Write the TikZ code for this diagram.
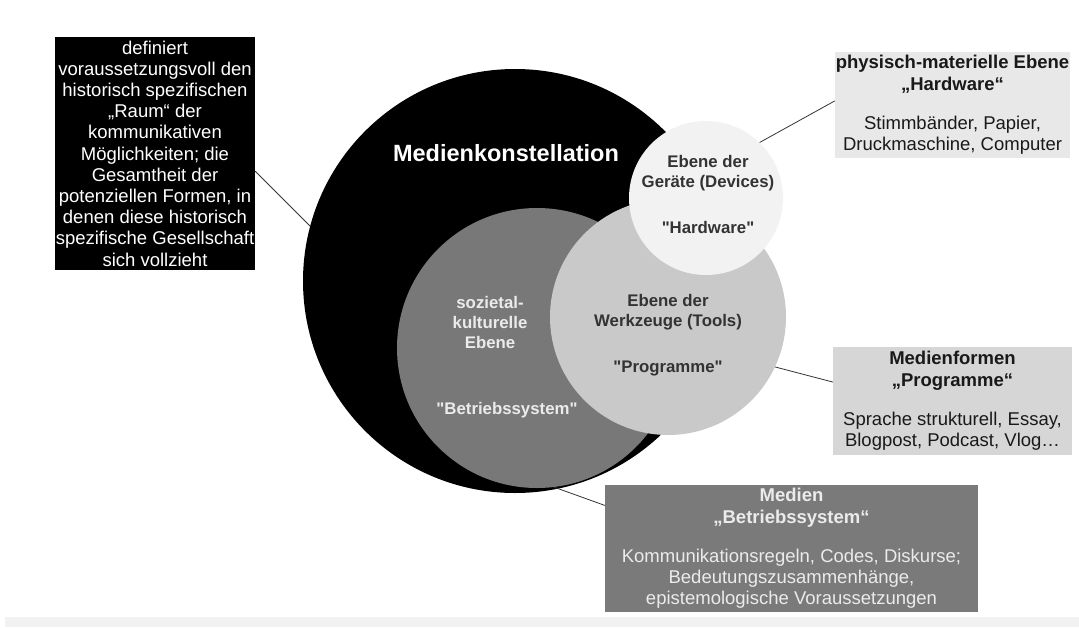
\documentclass[tikz,border=0pt]{standalone}
\usepackage{fontspec}
\setmainfont{Liberation Sans}[Ligatures=TeXOff]
\usetikzlibrary{calc}
\definecolor{clrsoc}{gray}{0.47}
\definecolor{clrtool}{gray}{0.79}
\definecolor{clrdev}{gray}{0.95}
\definecolor{clrhw}{gray}{0.91}
\definecolor{clrprog}{gray}{0.84}
\definecolor{clrbs}{gray}{0.48}
\definecolor{clrdark}{gray}{0.20}
\definecolor{clrpale}{gray}{0.92}
\newcommand{\fontkonst}{\fontsize{23.5pt}{26pt}\selectfont\bfseries}
\newcommand{\fontring}{\fontsize{16.8pt}{20pt}\selectfont\bfseries}
\newcommand{\fontbox}{\fontsize{18.5pt}{21.2pt}\selectfont}

\begin{document}
\begin{tikzpicture}[x=1pt, y=-1pt,
    ring/.style={circle, draw=none, inner sep=0pt},
    infobox/.style={rectangle, draw=none, inner sep=0pt, align=center, font=\fontbox},
    ringtext/.style={align=center, font=\fontring, inner sep=0pt},
    link/.style={clrdark, line width=0.8pt}]

    \useasboundingbox (0,0) rectangle (1079,627);
    \fill[black!5] (5,617) rectangle (1079,627);

%centers
    \coordinate (ck) at (515,281);
    \coordinate (cs) at (537,348);
    \coordinate (ct) at (668,317);
    \coordinate (cd) at (706,198);

%%%%        Circles
    \node[ring, fill=black, minimum size=424pt] (konst) at (ck) {};
    \node[ring, fill=clrsoc, minimum size=280pt] (soc) at (cs) {};
    \node[ring, fill=clrtool, minimum size=236pt] (tools) at (ct) {};
    \node[ring, fill=clrdev, minimum size=154pt] (dev) at (cd) {};

%%%%        Boxes
    \node[infobox, fill=black, text=white, minimum width=200pt, minimum height=233pt] (defbox) at (155,153.5)
        {definiert\\voraussetzungsvoll den\\historisch spezifischen\\„Raum“ der\\kommunikativen\\Möglichkeiten; die\\Gesamtheit der\\potenziellen Formen, in\\denen diese historisch\\spezifische Gesellschaft\\sich vollzieht};
    \node[infobox, fill=clrhw, text=black!90, minimum width=235pt, minimum height=106pt] (hwbox) at (952.5,105)
        {\textbf{physisch-materielle Ebene}\\\textbf{„Hardware“}\\[18pt]Stimmbänder, Papier,\\Druckmaschine, Computer};
    \node[infobox, fill=clrprog, text=black!90, minimum width=239pt, minimum height=108pt] (progbox) at (952.5,401)
        {\textbf{Medienformen}\\\textbf{„Programme“}\\[18pt]Sprache strukturell, Essay,\\Blogpost, Podcast, Vlog…};
    \node[infobox, fill=clrbs, text=clrpale, minimum width=373pt, minimum height=127pt] (bsbox) at (791.5,548.5)
        {\textbf{Medien}\\\textbf{„Betriebssystem“}\\[18pt]Kommunikationsregeln, Codes, Diskurse;\\Bedeutungszusammenhänge,\\epistemologische Voraussetzungen};

%%%%        Edges
    \foreach\v/\w in {defbox.-10/konst.165, dev.46/hwbox.178, tools.-25/progbox.171, soc.-83/bsbox.167}
    {
        \draw[link] (\v) -- (\w);
    }

%%%%        Labels
    \node[ringtext, font=\fontkonst, text=white] (tkonst) at (506,153) {Medienkonstellation};
    \node[ringtext, text=clrdark] (tdev) at (708,173) {Ebene der\\Geräte (Devices)};
    \node[ringtext, text=clrdark] (tdevq) at (708,227) {"Hardware"};
    \node[ringtext, text=clrdark] (ttool) at (668,312) {Ebene der\\Werkzeuge (Tools)};
    \node[ringtext, text=clrdark] (ttoolq) at (668,368) {"Programme"};
    \node[ringtext, text=clrpale] (tsoc) at (490,322) {sozietal-\\kulturelle\\Ebene};
    \node[ringtext, text=clrpale] (tsocq) at (507,410) {"Betriebssystem"};
\end{tikzpicture}
\end{document}
